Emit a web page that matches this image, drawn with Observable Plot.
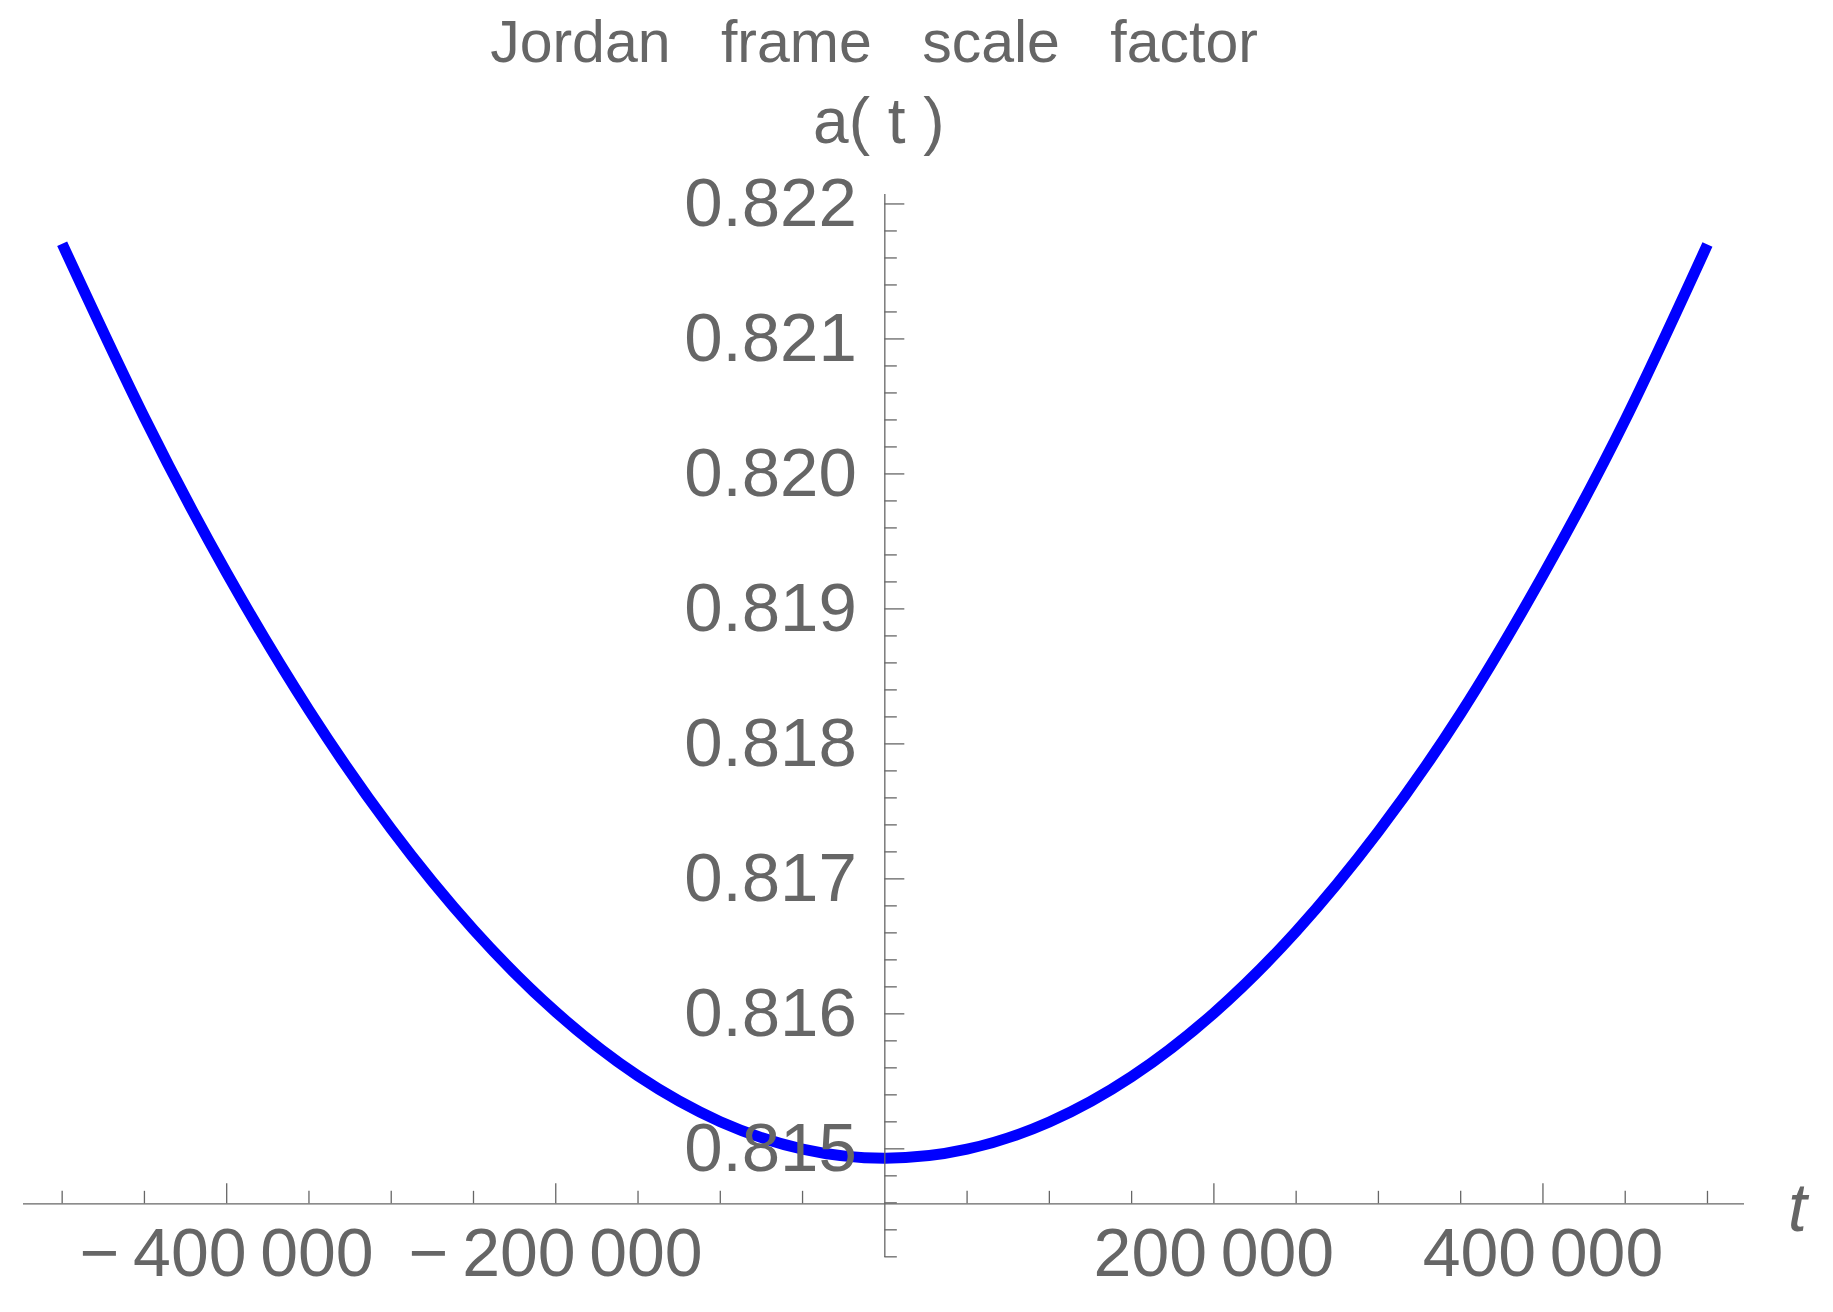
<!DOCTYPE html>
<html><head><meta charset="utf-8">
<script src="https://cdn.jsdelivr.net/npm/d3@7"></script>
<script src="https://cdn.jsdelivr.net/npm/@observablehq/plot@0.6"></script>
<style>
html,body{margin:0;padding:0;background:#fff;}
#title{font-family:"Liberation Sans",Arial,sans-serif;font-size:59px;color:#666;line-height:59px;height:67px;padding-top:13px;width:1748px;text-align:center;word-spacing:34px;white-space:nowrap;}
</style></head><body>
<div id="title">Jordan frame scale factor</div>
<div id="chart"></div>
<script>
// Data
const tValues = [-500000,-450000,-400000,-350000,-300000,-250000,-200000,-150000,-100000,-50000,0,50000,100000,150000,200000,250000,300000,350000,400000,450000,500000];
const aValues = [0.821705,0.820418,0.819266,0.818250,0.817369,0.816624,0.816014,0.815540,0.815201,0.814998,0.814930,0.814997,0.815199,0.815535,0.816006,0.816611,0.817351,0.818225,0.819250,0.820400,0.821700];

const xMajorTicks = [-400000,-200000,200000,400000];
const xMajorLabels = ["\u2212\u2009400\u2009000","\u2212\u2009200\u2009000","200\u2009000","400\u2009000"];
const xMinorTicks = [-500000,-450000,-350000,-300000,-250000,-150000,-100000,-50000,50000,100000,150000,250000,300000,350000,450000,500000];
const yMajorTicks = [0.815,0.816,0.817,0.818,0.819,0.820,0.821,0.822];
const yMajorLabels = ["0.815","0.816","0.817","0.818","0.819","0.820","0.821","0.822"];
const yMinorTicks = [0.8142,0.8144,0.8146,0.8148,0.8152,0.8154,0.8156,0.8158,0.8162,0.8164,0.8166,0.8168,0.8172,0.8174,0.8176,0.8178,0.8182,0.8184,0.8186,0.8188,0.8192,0.8194,0.8196,0.8198,0.8202,0.8204,0.8206,0.8208,0.8212,0.8214,0.8216,0.8218];
const xDomain = [-523500, 522500];
const yDomain = [0.814195, 0.82207];
const xAxisCrossing = 0.8145926;

const points = tValues.map((t, i) => ({t, a: aValues[i]}));
const font = '"Liberation Sans", Arial, sans-serif';
const gray = "#666";

const chart = Plot.plot({
  width: 1833,
  height: 1232,
  marginLeft: 23,
  marginRight: 89,
  marginTop: 114,
  marginBottom: 55,
  x: {domain: xDomain, axis: null},
  y: {domain: yDomain, axis: null},
  style: {fontFamily: font, background: "white", overflow: "visible"},
  marks: [
    Plot.line(points, {x: "t", y: "a", stroke: "#0000ff", strokeWidth: 11, curve: "natural", strokeLinecap: "butt", strokeLinejoin: "round"}),
    Plot.ruleY([xAxisCrossing], {stroke: gray, strokeWidth: 1.3}),
    Plot.ruleX([0], {stroke: gray, strokeWidth: 1.3}),
    Plot.ruleX(xMinorTicks, {x: d => d, y1: () => xAxisCrossing, y2: () => xAxisCrossing, insetTop: -12.5, insetBottom: 0, stroke: gray, strokeWidth: 1.3}),
    Plot.ruleX(xMajorTicks, {x: d => d, y1: () => xAxisCrossing, y2: () => xAxisCrossing, insetTop: -20, insetBottom: 0, stroke: gray, strokeWidth: 1.3}),
    Plot.ruleY(yMinorTicks, {y: d => d, x1: () => 0, x2: () => 0, insetLeft: 0, insetRight: -12.5, stroke: gray, strokeWidth: 1.3}),
    Plot.ruleY(yMajorTicks, {y: d => d, x1: () => 0, x2: () => 0, insetLeft: 0, insetRight: -20, stroke: gray, strokeWidth: 1.3}),
    Plot.text(yMajorTicks, {x: () => 0, y: d => d, text: (d, i) => yMajorLabels[i], textAnchor: "end", dx: -28, fontSize: 69, fill: gray, fontFamily: font}),
    Plot.text(xMajorTicks, {x: d => d, y: () => xAxisCrossing, text: (d, i) => xMajorLabels[i], dy: 50, fontSize: 68, fill: gray, fontFamily: font}),
    Plot.text(["t"], {x: () => xDomain[1], y: () => xAxisCrossing, text: d => d, dx: 53, dy: 5, fontSize: 68, fontStyle: "italic", fill: gray, fontFamily: font}),
    Plot.text(["a( t )"], {x: () => 0, y: () => yDomain[1], text: d => d, dx: -6, dy: -72, fontSize: 64, fill: gray, fontFamily: font, letterSpacing: 2})
  ]
});
document.getElementById("chart").appendChild(chart);
</script>
</body></html>
